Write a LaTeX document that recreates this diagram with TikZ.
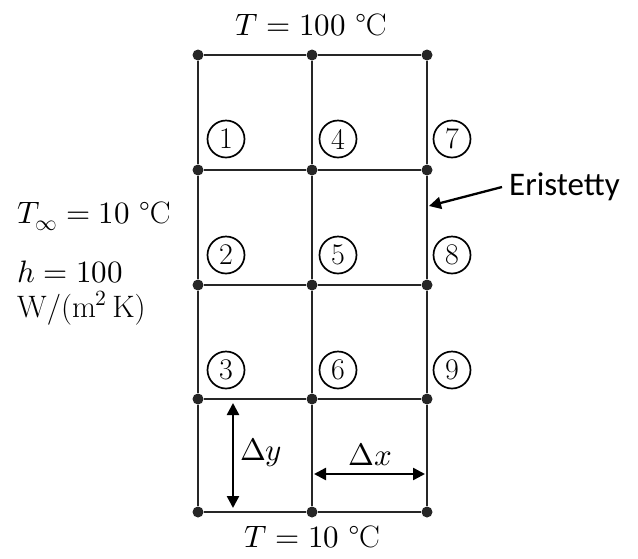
\documentclass[tikz,border=0pt]{standalone}
\usepackage{unicode-math}
\setmathfont{Latin Modern Math}
\setsansfont{Carlito}
\usetikzlibrary{arrows.meta}
\begin{document}
\begin{tikzpicture}[x=1pt,y=-1pt, every node/.style={font=\fontsize{31}{36}\selectfont,inner sep=0pt},
  dot/.style={circle,fill=black!85,minimum size=11pt},
  num/.style={draw,circle,line width=1.7pt,minimum size=37pt,font=\fontsize{30}{30}\selectfont},
  gridline/.style={line width=2.5pt,black!85},
  dim/.style={{Triangle[length=12pt,width=12pt]}-{Triangle[length=12pt,width=12pt]},line width=2.5pt}]
\useasboundingbox (0,0) rectangle (638,558);
% grid points
\foreach \c/\x in {1/198,2/312,3/427}
  \foreach \r/\y in {1/55,2/170,3/285,4/399,5/512}
    \node[dot] (p\c\r) at (\x,\y) {};
\foreach \r in {1,...,5}
  \draw[gridline] (p1\r) -- (p2\r) -- (p3\r);
\foreach \c in {1,2,3}
  \draw[gridline] (p\c1) -- (p\c2) -- (p\c3) -- (p\c4) -- (p\c5);
% node numbers
\node[num] (n1) at (226,139) {1};
\node[num] (n4) at (338,139) {4};
\node[num] (n7) at (452,139) {7};
\node[num] (n2) at (226,255) {2};
\node[num] (n5) at (338,255) {5};
\node[num] (n8) at (452,255) {8};
\node[num] (n3) at (226,370) {3};
\node[num] (n6) at (338,370) {6};
\node[num] (n9) at (452,370) {9};
% boundary conditions
\node[anchor=base] (ttop) at (311,35) {$T=100$ °C};
\node[anchor=base] (tbot) at (312,547) {$T=10$ °C};
\node[anchor=base west] (tinf) at (17,223) {$T_\infty=10$ °C};
\node[anchor=base west] (hval) at (17,282) {$h=100$};
\node[anchor=base west] (hunit) at (17,317) {W/(m$^2$\,K)};
\node[anchor=base west,font=\sffamily\fontsize{33}{38}\selectfont] (insul) at (509,195) {Eristetty};
\coordinate (wall) at (429,206);
\draw[-{Triangle[length=12pt,width=12pt]},line width=2.3pt] ([xshift=-7pt]insul.west |- 0,187) -- (wall);
% spacing
\coordinate (dy1) at (233,403);
\coordinate (dy2) at (233,508);
\coordinate (dx1) at (314,474);
\coordinate (dx2) at (425,474);
\draw[dim] (dy1) -- (dy2);
\draw[dim] (dx1) -- (dx2);
\node (dylab) at (261,453) {$\Delta y$};
\node (dxlab) at (370,455) {$\Delta x$};
\end{tikzpicture}
\end{document}
